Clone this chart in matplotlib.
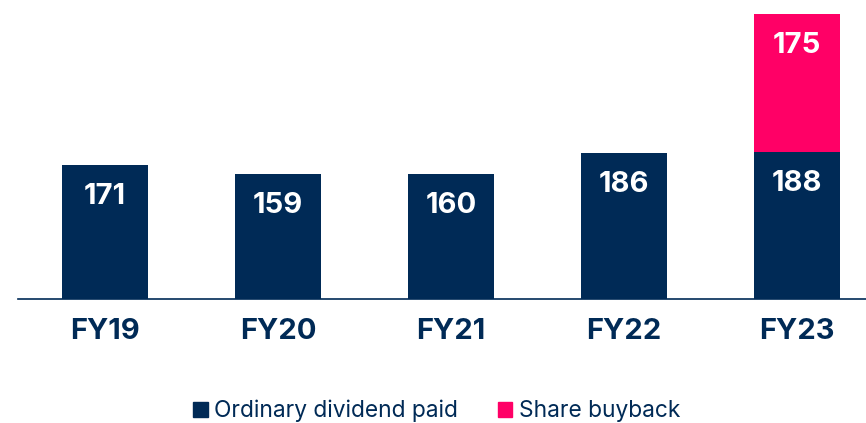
import matplotlib
matplotlib.use("Agg")
import matplotlib.pyplot as plt
from matplotlib.patches import Patch

plt.rcParams['font.family'] = ['Inter', 'DejaVu Sans']

categories = ["FY19", "FY20", "FY21", "FY22", "FY23"]
dividend = [171, 159, 160, 186, 188]
buyback = [0, 0, 0, 0, 175]

NAVY = "#002a56"
PINK = "#ff0066"

fig = plt.figure(figsize=(8.66, 4.23), dpi=100)
ax = fig.add_axes([18/866, (423-299)/423, 1 - 18/866, 299/423])

x = list(range(len(categories)))
ax.bar(x, dividend, width=0.5, color=NAVY)
ax.bar(x, buyback, width=0.5, bottom=dividend, color=PINK)

px_per_unit = 0.784
ax.set_ylim(0, 299/px_per_unit)
ax.set_xlim(-0.503, 4.4)

off = 39/px_per_unit
for i, v in enumerate(dividend):
    ax.text(i, v - off, str(v), ha='center', va='baseline', color='white',
            fontsize=21, fontweight='bold')
for i, (d, b) in enumerate(zip(dividend, buyback)):
    if b > 0:
        ax.text(i, d + b - off, str(b), ha='center', va='baseline', color='white',
                fontsize=21, fontweight='bold')

for s in ['top', 'right', 'left']:
    ax.spines[s].set_visible(False)
ax.spines['bottom'].set_color(NAVY)
ax.spines['bottom'].set_linewidth(1.2)
ax.set_yticks([])
ax.set_xticks(x)
ax.set_xticklabels(categories, fontsize=21, fontweight='bold', color=NAVY)
ax.tick_params(axis='x', length=0, pad=14)

handles = [Patch(color=NAVY, label="Ordinary dividend paid"),
           Patch(color=PINK, label="Share buyback")]
fig.legend(handles=handles, loc='center', bbox_to_anchor=(437/866, 1 - 411/423),
           ncol=2, frameon=False, fontsize=16.4, labelcolor=NAVY,
           handlelength=0.62, handleheight=0.62, handletextpad=0.3, columnspacing=1.75,
           borderpad=0, borderaxespad=0)

fig.savefig("out.png", dpi=100)
